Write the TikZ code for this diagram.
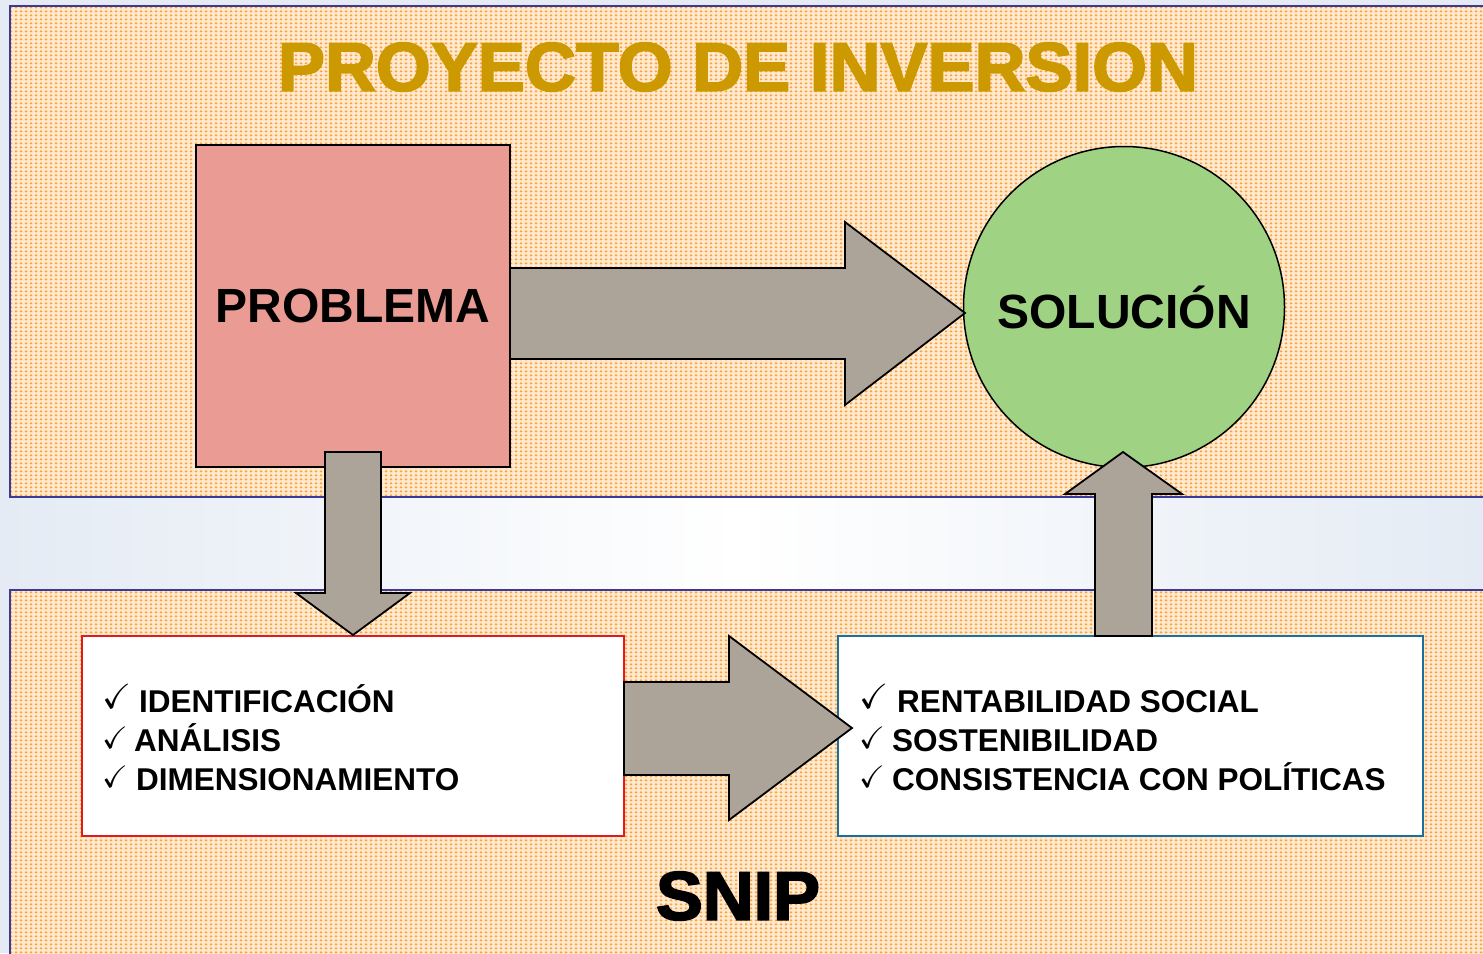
\documentclass[tikz,border=0pt]{standalone}
\usepackage{amssymb}
\usepackage{fontspec}
\setmainfont{Liberation Sans}
\newfontfamily\heavyfont[FakeBold=2.5]{Liberation Sans}
\usetikzlibrary{patterns.meta}
\definecolor{bgblue}{HTML}{E4EBF4}
\definecolor{panelline}{HTML}{3A3A9A}
\definecolor{dotbase}{HTML}{FFEAD0}
\definecolor{dotcol}{HTML}{F9A240}
\definecolor{titlegold}{HTML}{CC9900}
\definecolor{probfill}{HTML}{EA9B93}
\definecolor{solfill}{HTML}{9FD282}
\definecolor{arrowfill}{HTML}{ACA498}
\definecolor{redline}{HTML}{E01B1B}
\definecolor{blueline}{HTML}{1C6E9E}
\tikzdeclarepattern{name=odots, type=uncolored,
  bounding box={(0pt,0pt) and (4.5pt,4pt)}, tile size={(4.5pt,4pt)},
  code={\fill (2.25pt,2pt) circle (1.55pt);}}
\tikzset{
  panel/.style={draw=panelline, line width=2pt},
  blockarrow/.style={draw=black, line width=1.8pt, fill=arrowfill, line join=miter},
  itemtext/.style={anchor=base west, inner sep=0pt, font=\fontsize{31.5}{36}\selectfont\bfseries},
  checkmk/.style={anchor=base west, inner sep=0pt},
  bigtext/.style={font=\fontsize{48}{54}\selectfont\bfseries, text=black}
}
\begin{document}
\begin{tikzpicture}[x=1pt,y=-1pt]
\useasboundingbox (0,0) rectangle (1483,953);
\clip (0,0) rectangle (1483,953);
% background
\fill[bgblue] (0,0) rectangle (1483,953);
\shade[left color=bgblue, right color=bgblue, middle color=white] (0,497) rectangle (1483,590);
% top panel
\fill[dotbase] (10,6) rectangle (1495,497);
\fill[pattern=odots, pattern color=dotcol] (10,6) rectangle (1495,497);
\draw[panel] (10,6) rectangle (1495,497);
% bottom panel
\fill[dotbase] (10,590) rectangle (1495,965);
\fill[pattern=odots, pattern color=dotcol] (10,590) rectangle (1495,965);
\draw[panel] (10,590) rectangle (1495,965);
% title
\node[inner sep=0pt, text=titlegold] (title) at (738,67) {\resizebox{920pt}{48pt}{\heavyfont\bfseries PROYECTO DE INVERSION}};
% main shapes
\node[draw=black, line width=1.8pt, fill=probfill, minimum width=314pt, minimum height=322pt, inner sep=0pt, bigtext] (prob) at (353,306) {PROBLEMA};
\node[circle, draw=black, line width=1.5pt, fill=solfill, minimum size=321pt, inner sep=0pt, bigtext] (sol) at (1124,307) {SOLUCIÓN};
% lower boxes
\node[draw=redline, line width=2pt, fill=white, minimum width=542pt, minimum height=200pt, inner sep=0pt] (left) at (353,736) {};
\node[draw=blueline, line width=2pt, fill=white, minimum width=585pt, minimum height=200pt, inner sep=0pt] (right) at (1130.5,736) {};
% block arrows
\draw[blockarrow] (510,268) -- (845,268) -- (845,222) -- (965,313) -- (845,405) -- (845,359) -- (510,359) -- cycle;
\draw[blockarrow] (325,452) -- (381,452) -- (381,593) -- (410,593) -- (353,635) -- (296,593) -- (325,593) -- cycle;
\draw[blockarrow] (1095,636) -- (1095,494) -- (1065,494) -- (1123,452) -- (1182,494) -- (1152,494) -- (1152,636) -- cycle;
\draw[blockarrow] (624,682) -- (729,682) -- (729,636) -- (852,728) -- (729,820) -- (729,775) -- (624,775) -- cycle;
% list texts
\node[checkmk] (c1) at (102,708) {\scalebox{3.5}{$\checkmark$}};
\node[itemtext] (l1) at (139,712) {IDENTIFICACIÓN};
\node[checkmk] (c2) at (102,748) {\scalebox{3.1}{$\checkmark$}};
\node[itemtext] (l2) at (134,751) {ANÁLISIS};
\node[checkmk] (c3) at (102,787) {\scalebox{3.1}{$\checkmark$}};
\node[itemtext] (l3) at (136,790) {DIMENSIONAMIENTO};
\node[checkmk] (c4) at (859,708) {\scalebox{3.5}{$\checkmark$}};
\node[itemtext] (r1) at (897,712) {RENTABILIDAD SOCIAL};
\node[checkmk] (c5) at (859,748) {\scalebox{3.1}{$\checkmark$}};
\node[itemtext] (r2) at (892,751) {SOSTENIBILIDAD};
\node[checkmk] (c6) at (859,787) {\scalebox{3.1}{$\checkmark$}};
\node[itemtext] (r3) at (892,790) {CONSISTENCIA CON POLÍTICAS};
% SNIP
\node[inner sep=0pt] (snip) at (738,896) {\resizebox{164pt}{48pt}{\heavyfont\bfseries SNIP}};
\end{tikzpicture}
\end{document}
